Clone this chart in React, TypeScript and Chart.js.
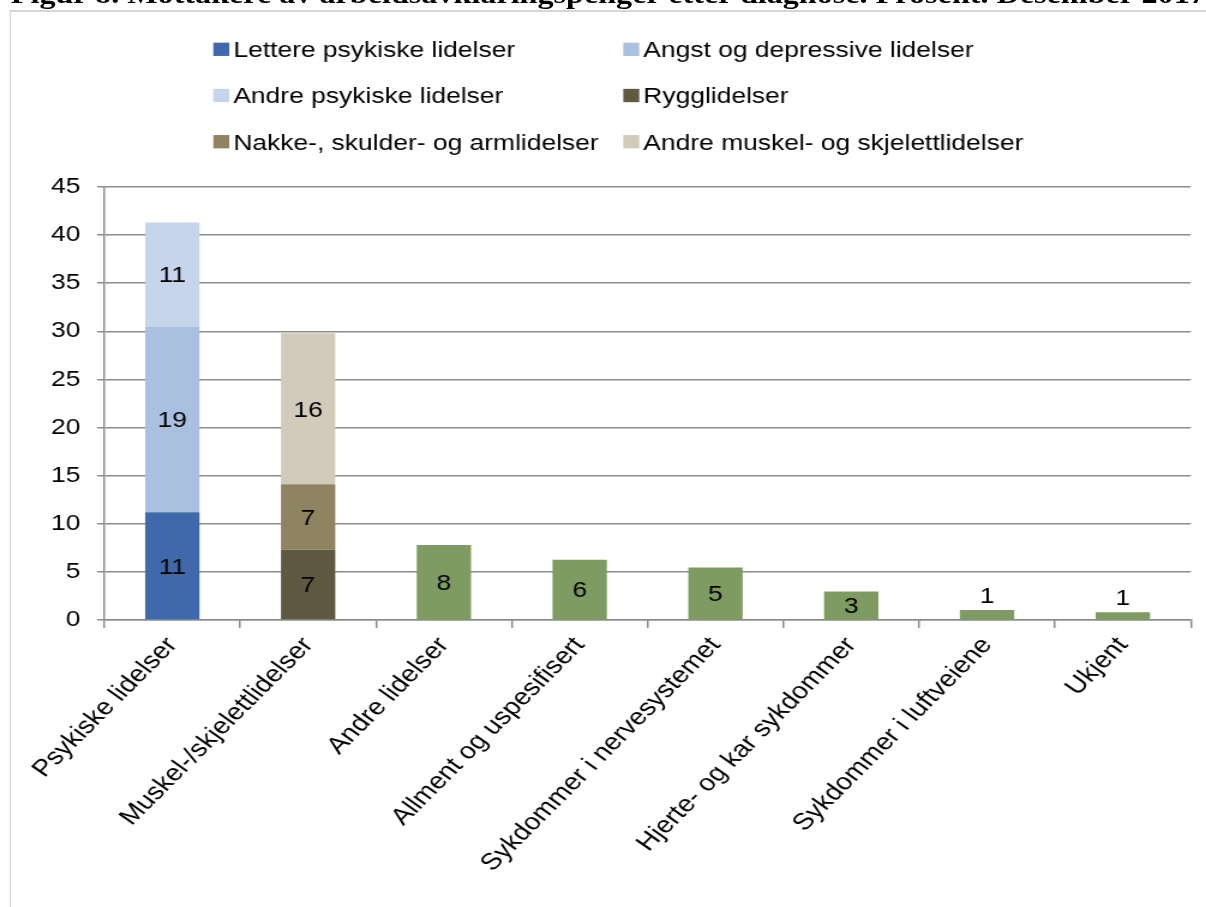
import React, { useEffect, useRef } from "react";
import { Chart, registerables } from "chart.js";

Chart.register(...registerables);

const FONT = '"Liberation Sans", Arial, Helvetica, sans-serif';

const titleText =
  "Figur 8. Mottakere av arbeidsavklaringspenger etter diagnose. Prosent. Desember 2017";

const categories = [
  "Psykiske lidelser",
  "Muskel-/skjelettlidelser",
  "Andre lidelser",
  "Allment og uspesifisert",
  "Sykdommer i nervesystemet",
  "Hjerte- og kar sykdommer",
  "Sykdommer i luftveiene",
  "Ukjent",
];

const seriesNames = [
  "Lettere psykiske lidelser",
  "Angst og depressive lidelser",
  "Andre psykiske lidelser",
  "Rygglidelser",
  "Nakke-, skulder- og armlidelser",
  "Andre muskel- og skjelettlidelser",
  "Øvrige diagnoser",
];

const letterePsykiske = [11.2, null, null, null, null, null, null, null];
const angstDepressive = [19.3, null, null, null, null, null, null, null];
const andrePsykiske = [10.8, null, null, null, null, null, null, null];
const rygglidelser = [null, 7.3, null, null, null, null, null, null];
const nakkeSkulderArm = [null, 6.8, null, null, null, null, null, null];
const andreMuskel = [null, 15.7, null, null, null, null, null, null];
const ovrige = [null, null, 7.8, 6.25, 5.45, 2.95, 1.05, 0.8];

const yTicks = [0, 5, 10, 15, 20, 25, 30, 35, 40, 45];

const seriesColors = [
  "#3F69AB",
  "#AAC0E0",
  "#C6D4EC",
  "#5F5941",
  "#8F8461",
  "#D2CBBC",
  "#7E9B61",
];

const legendPlugin = {
  id: "twoColLegend",
  afterDraw(chart: any) {
    const ctx = chart.ctx;
    const cols = [177.75, 519.4];
    const rows = [49.3, 95.5, 141.7];
    const box = 13.3;
    ctx.save();
    ctx.font = `22px ${FONT}`;
    ctx.textAlign = "left";
    ctx.textBaseline = "alphabetic";
    chart.data.datasets.forEach((ds: any, i: number) => {
      if (!ds.inLegend) return;
      const c = i % 2;
      const r = Math.floor(i / 2);
      const cy = rows[r];
      ctx.fillStyle = ds.backgroundColor;
      ctx.fillRect(cols[c], cy - box / 2, box, box);
      ctx.fillStyle = "#000";
      ctx.fillText(ds.label, cols[c] + box + 3.4, cy + 7.9);
    });
    ctx.restore();
  },
};

const valueLabelPlugin = {
  id: "valueLabels",
  afterDatasetsDraw(chart: any) {
    const ctx = chart.ctx;
    ctx.save();
    ctx.font = `22px ${FONT}`;
    ctx.fillStyle = "#000";
    ctx.textAlign = "center";
    ctx.textBaseline = "alphabetic";
    chart.data.datasets.forEach((ds: any, di: number) => {
      const meta = chart.getDatasetMeta(di);
      meta.data.forEach((bar: any, i: number) => {
        const v = ds.data[i];
        if (v == null) return;
        const { x, y, base } = bar.getProps(["x", "y", "base"], true);
        const h = base - y;
        const txt = String(Math.round(v));
        if (h >= 20) {
          ctx.fillText(txt, x, (y + base) / 2 + 7.9);
        } else {
          ctx.fillText(txt, x, y - 7);
        }
      });
    });
    ctx.restore();
  },
};

export default function App() {
  const canvasRef = useRef<HTMLCanvasElement | null>(null);

  useEffect(() => {
    if (!canvasRef.current) return;
    const seriesData = [
      letterePsykiske,
      angstDepressive,
      andrePsykiske,
      rygglidelser,
      nakkeSkulderArm,
      andreMuskel,
      ovrige,
    ];
    const chart = new Chart(canvasRef.current, {
      type: "bar",
      data: {
        labels: categories,
        datasets: seriesData.map((d, i) => ({
          label: seriesNames[i],
          data: d,
          backgroundColor: seriesColors[i],
          borderWidth: 0,
          stack: "s",
          barPercentage: 0.4,
          categoryPercentage: 1.0,
          inLegend: i < 6,
        })) as any,
      },
      options: {
        animation: false,
        responsive: true,
        maintainAspectRatio: false,
        layout: { padding: { top: 187, right: 12.75, left: 0, bottom: 0 } },
        plugins: {
          legend: { display: false },
          tooltip: { enabled: false },
          title: { display: false },
        },
        scales: {
          x: {
            stacked: true,
            grid: {
              display: true,
              drawOnChartArea: false,
              drawTicks: true,
              tickLength: 8,
              color: "#8c8c8c",
              lineWidth: 1.5,
              offset: true,
            },
            border: { display: true, color: "#8c8c8c", width: 1.5 },
            ticks: {
              autoSkip: false,
              maxRotation: 50,
              minRotation: 50,
              color: "#000",
              font: { size: 23.5, family: FONT },
              padding: 4,
            },
            afterFit: (s: any) => {
              s.height = 287;
            },
          },
          y: {
            stacked: true,
            min: 0,
            max: 45,
            afterBuildTicks: (s: any) => {
              s.ticks = yTicks.map((v) => ({ value: v }));
            },
            ticks: {
              color: "#000",
              font: { size: 22, family: FONT },
              padding: 14,
            },
            grid: { color: "#8c8c8c", lineWidth: 1.5, tickLength: 6 },
            border: { display: true, color: "#8c8c8c", width: 1.5 },
            afterFit: (s: any) => {
              s.width = 87;
            },
          },
        },
      } as any,
      plugins: [legendPlugin, valueLabelPlugin],
    });
    return () => chart.destroy();
  }, []);

  return (
    <div
      style={{
        position: "fixed",
        left: 0,
        top: 0,
        width: 1206,
        height: 907,
        overflow: "hidden",
        background: "#fff",
      }}
    >
      <div
        style={{
          position: "absolute",
          left: 0,
          top: 0,
          width: 1005,
          height: 907,
          transform: "scaleX(1.2)",
          transformOrigin: "0 0",
        }}
      >
        <div
          style={{
            position: "absolute",
            left: 9,
            top: -19.5,
            whiteSpace: "nowrap",
            font: 'bold 26.8px "Liberation Serif", "Times New Roman", serif',
            lineHeight: "27px",
            color: "#000",
          }}
        >
          {titleText}
        </div>
        <div
          style={{
            position: "absolute",
            left: 8.3,
            top: 10,
            width: 1200,
            height: 1200,
            borderLeft: "1.7px solid #d6d6d6",
            borderTop: "2px solid #d6d6d6",
          }}
        />
        <div style={{ position: "absolute", left: 0, top: 0, width: 1005, height: 907 }}>
          <canvas ref={canvasRef} />
        </div>
      </div>
    </div>
  );
}
